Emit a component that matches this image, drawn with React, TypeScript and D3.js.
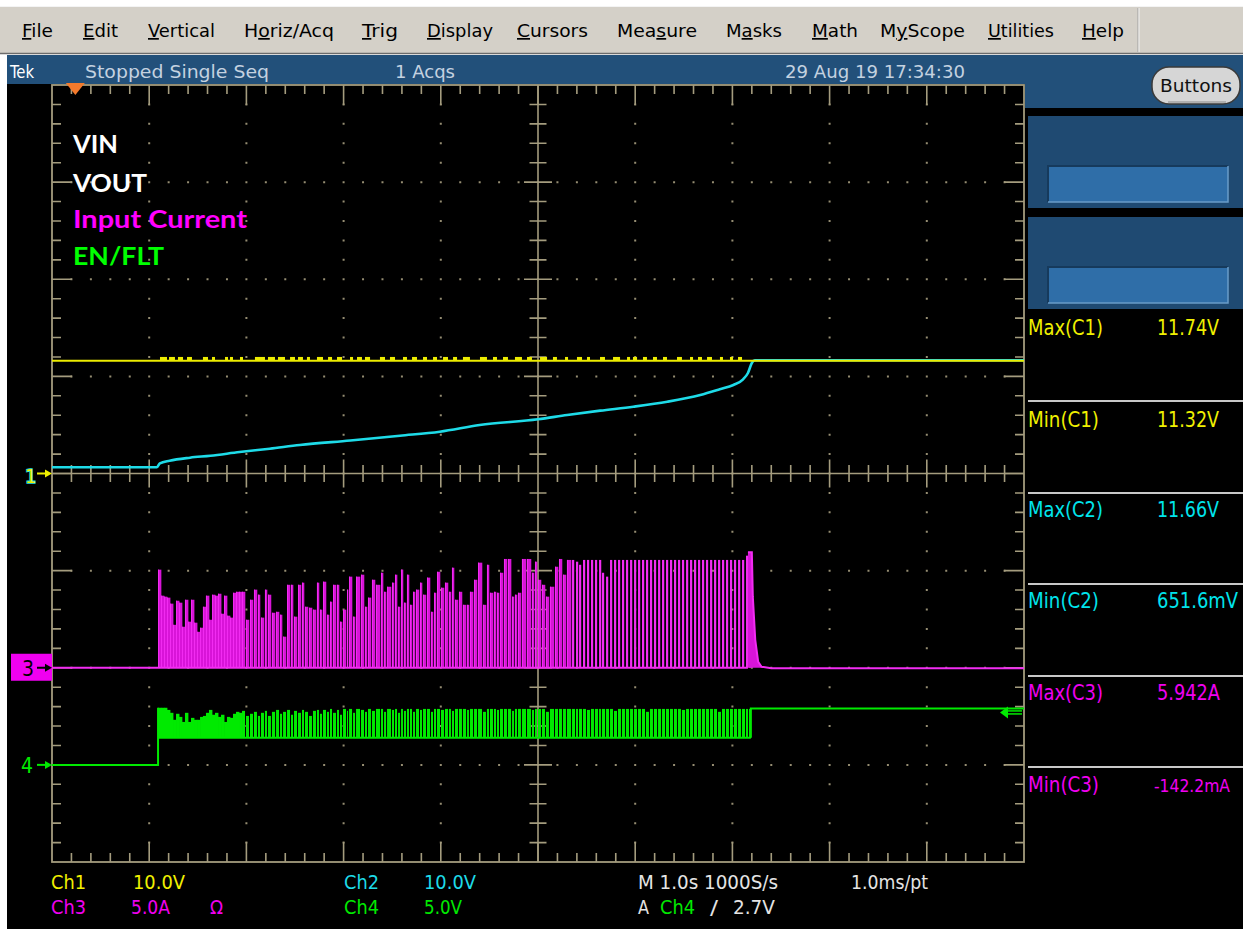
import React from 'react';
import * as d3 from 'd3';

const W = 1243;
const H = 934;

// Graticule frame: 10 horizontal x 8 vertical divisions
const GX0 = 52;
const GX1 = 1024;
const GY0 = 85;
const GY1 = 862;

// Horizontal: 1.0 s/div, record in seconds
const timeDomain = [0, 10];

// Ch1 VIN (10 V/div)
const vinLevel = 11.62;
const vinNoisePeak = 12.0;
const vinNoise: [number, number][] = [
  [1.111, 1.183], [1.204, 1.265], [1.296, 1.348], [1.389, 1.44], [1.553, 1.605], [1.646, 1.677],
  [1.78, 1.811], [1.831, 1.862], [1.934, 1.965], [2.088, 2.191], [2.222, 2.294], [2.325, 2.397],
  [2.449, 2.5], [2.531, 2.582], [2.623, 2.654], [2.726, 2.788], [2.84, 2.881], [2.932, 2.984],
  [3.066, 3.097], [3.138, 3.189], [3.22, 3.272], [3.374, 3.426], [3.477, 3.529], [3.611, 3.652],
  [3.704, 3.755], [3.817, 3.858], [3.92, 3.961], [4.023, 4.074], [4.126, 4.167], [4.228, 4.3],
  [4.403, 4.475], [4.537, 4.578], [4.64, 4.691], [4.763, 4.835], [4.887, 4.938], [5.021, 5.093],
  [5.154, 5.195], [5.278, 5.309], [5.401, 5.453], [5.504, 5.535], [5.638, 5.689], [5.772, 5.844],
  [5.916, 5.947], [5.977, 6.019], [6.08, 6.121], [6.183, 6.224], [6.286, 6.327], [6.43, 6.481],
  [6.564, 6.595], [6.646, 6.687], [6.739, 6.79], [6.872, 6.903], [6.975, 7.006], [7.058, 7.099],
];

// Ch2 VOUT (10 V/div)
const voutT = [0, 1.08, 1.11, 1.21, 1.42, 1.63, 1.93, 2.24, 2.55, 3.07, 3.58, 3.99, 4.4, 5.0, 5.3, 5.64, 5.98, 6.33, 6.67, 6.87, 7.01, 7.11, 7.16, 7.2, 7.23, 10];
const voutV = [0.65, 0.65, 1.05, 1.32, 1.63, 1.83, 2.21, 2.55, 2.93, 3.4, 3.89, 4.3, 4.99, 5.58, 6.02, 6.47, 6.88, 7.39, 8.08, 8.67, 9.11, 9.7, 10.35, 11.38, 11.66, 11.66];

// Switching pulses shared by Ch3 (input current) and Ch4 (EN/FLT)
const pulseT = [
  1.091, 1.121, 1.152, 1.183, 1.214, 1.245, 1.276, 1.307, 1.337, 1.368, 1.399, 1.43, 1.461, 1.492,
  1.523, 1.553, 1.584, 1.615, 1.646, 1.677, 1.708, 1.739, 1.77, 1.8, 1.831, 1.862, 1.893, 1.924,
  1.955, 1.996, 2.037, 2.078, 2.119, 2.15, 2.191, 2.222, 2.263, 2.305, 2.346, 2.377, 2.418, 2.459,
  2.49, 2.531, 2.572, 2.603, 2.644, 2.685, 2.726, 2.757, 2.788, 2.829, 2.86, 2.891, 2.932, 2.963,
  2.994, 3.035, 3.056, 3.097, 3.128, 3.179, 3.22, 3.251, 3.292, 3.333, 3.385, 3.416, 3.447, 3.498,
  3.529, 3.56, 3.591, 3.621, 3.652, 3.683, 3.714, 3.745, 3.786, 3.817, 3.858, 3.899, 3.93, 3.961,
  4.002, 4.043, 4.084, 4.115, 4.146, 4.187, 4.228, 4.27, 4.3, 4.342, 4.383, 4.434, 4.475, 4.506,
  4.547, 4.578, 4.609, 4.65, 4.691, 4.733, 4.763, 4.794, 4.835, 4.887, 4.938, 4.969, 5.0, 5.041,
  5.082, 5.123, 5.175, 5.216, 5.257, 5.298,
  5.35, 5.391, 5.422, 5.463, 5.504, 5.545, 5.586, 5.628, 5.658, 5.7, 5.741, 5.782, 5.823, 5.864,
  5.905, 5.947, 5.988, 6.029, 6.07, 6.111, 6.152, 6.193, 6.235, 6.276, 6.317, 6.358, 6.399, 6.44,
  6.481, 6.523, 6.564, 6.605, 6.646, 6.687, 6.728, 6.77, 6.811, 6.852, 6.893, 6.934, 6.975, 7.016,
  7.058, 7.099, 7.14, 7.171,
];

// Ch3 input current peaks (A), 5 A/div
const currentA = [
  5.05, 3.71, 3.66, 3.61, 3.3, 2.21, 3.45, 3.35, 2.11, 3.5, 2.37, 3.5, 2.32, 1.85,
  2.06, 3.14, 3.71, 2.47, 3.76, 3.71, 3.81, 2.78, 3.71, 2.68, 2.58, 3.86, 3.91, 3.91,
  3.91, 2.47, 3.5, 4.02, 3.76, 2.58, 4.02, 3.76, 2.83, 2.88, 2.73, 1.6, 4.27, 4.27,
  2.63, 4.27, 4.38, 3.14, 3.09, 2.99, 4.38, 2.99, 4.43, 2.73, 3.4, 4.27, 4.27, 2.37,
  2.99, 4.02, 4.69, 2.63, 4.69, 4.79, 3.14, 3.61, 4.53, 4.27, 4.89, 3.91, 4.17, 4.38,
  4.79, 3.14, 5.05, 3.35, 4.79, 3.24, 3.91, 4.02, 4.38, 3.76, 4.64, 2.88, 3.86, 4.94,
  4.12, 4.38, 3.91, 5.15, 3.5, 3.91, 3.24, 3.24, 3.91, 4.53, 5.41, 3.24, 5.3, 3.86,
  3.91, 3.86, 4.89, 5.6, 5.6, 3.66, 3.76, 3.86, 5.6, 5.6, 4.89, 5.46, 4.53, 4.27,
  3.66, 4.17, 5.2, 5.6, 4.79, 5.55,
  5.55, 5.46, 5.3, 5.55, 5.55, 5.55, 5.55, 5.55, 4.89, 4.69, 5.55, 5.55, 5.55, 5.55,
  5.55, 5.55, 5.55, 5.55, 5.55, 5.55, 5.55, 5.55, 5.55, 5.55, 5.55, 5.55, 5.55, 5.55,
  5.55, 5.55, 5.55, 5.55, 5.55, 5.55, 5.55, 5.55, 5.55, 5.55, 5.55, 5.55, 5.55, 5.55,
  5.55, 5.55, 5.77, 5.94,
];
// Current decay once switching stops
const tailT = [7.16, 7.2, 7.21, 7.235, 7.265, 7.3, 7.4, 10];
const tailA = [5.94, 5.94, 3.66, 1.44, 0.31, 0.05, -0.03, -0.03];

// Ch4 EN/FLT pulse tops (V), 5 V/div
const enV = [
  2.94, 2.94, 2.94, 2.83, 2.68, 2.32, 2.63, 2.47, 2.21, 2.68, 2.21, 2.42, 2.32, 2.32,
  2.47, 2.52, 2.68, 2.83, 2.58, 2.68, 2.47, 2.58, 2.21, 2.47, 2.42, 2.63, 2.73, 2.68,
  2.78, 2.52, 2.63, 2.73, 2.52, 2.68, 2.78, 2.52, 2.73, 2.83, 2.63, 2.73, 2.83, 2.58,
  2.78, 2.68, 2.83, 2.73, 2.52, 2.78, 2.83, 2.63, 2.83, 2.73, 2.88, 2.68, 2.83, 2.58,
  2.88, 2.78, 2.88, 2.68, 2.88, 2.83, 2.73, 2.88, 2.78, 2.88, 2.88, 2.73, 2.88, 2.83,
  2.88, 2.68, 2.88, 2.78, 2.88, 2.88, 2.73, 2.88, 2.83, 2.88, 2.88, 2.73, 2.88, 2.88,
  2.83, 2.88, 2.88, 2.78, 2.88, 2.88, 2.88, 2.83, 2.88, 2.88, 2.88, 2.73, 2.88, 2.88,
  2.88, 2.83, 2.88, 2.88, 2.88, 2.78, 2.88, 2.88, 2.88, 2.88, 2.83, 2.88, 2.88, 2.88,
  2.73, 2.88, 2.88, 2.88, 2.88, 2.88,
  2.88, 2.88, 2.88, 2.88, 2.83, 2.88, 2.88, 2.88, 2.88, 2.88, 2.88, 2.78, 2.88, 2.88,
  2.88, 2.88, 2.88, 2.88, 2.88, 2.73, 2.88, 2.88, 2.88, 2.88, 2.88, 2.88, 2.88, 2.88,
  2.83, 2.88, 2.88, 2.88, 2.88, 2.88, 2.88, 2.88, 2.88, 2.73, 2.88, 2.88, 2.88, 2.88,
  2.88, 2.88, 2.88, 2.88,
];
const enLow = 1.39;
const enEdgeInT = [0, 1.091, 1.091];
const enEdgeInV = [0, 0, 2.94];
const enEdgeOutT = [7.19, 7.19, 10];
const enEdgeOutV = [1.39, 2.9, 2.9];

// Trigger
const triggerPos = 0.24; // s
const triggerLevel = 2.7; // V on Ch4

// Measurements panel
const measLabels = ['Max(C1)', 'Min(C1)', 'Max(C2)', 'Min(C2)', 'Max(C3)', 'Min(C3)'];
const measValues = ['11.74V', '11.32V', '11.66V', '651.6mV', '5.942A', '-142.2mA'];

// Menu bar
const menuLabels = ['File', 'Edit', 'Vertical', 'Horiz/Acq', 'Trig', 'Display', 'Cursors', 'Measure', 'Masks', 'Math', 'MyScope', 'Utilities', 'Help'];
const menuHot = [0, 0, 0, 1, 0, 0, 0, 3, 1, 0, 1, 0, 0];

// Trace legend
const legendLabels = ['VIN', 'VOUT', 'Input Current', 'EN/FLT'];

// ---- layout ----
const menuX = [22, 83, 148, 244, 362, 427, 517, 617, 726, 812, 880, 988, 1082];
const menuW = [31, 35, 67, 90, 36, 66, 71, 80, 56, 46, 85, 66, 42];
const measLabelW = [75, 71, 75, 71, 75, 71];
const measValueX = [1157, 1157, 1157, 1157, 1157, 1154];
const measValueW = [62, 62, 62, 81, 63, 76];
const measValueSize = [21, 21, 21, 21, 21, 18];
const measBase = [335, 427, 517, 608, 700, 792];
const measSep = [401, 493, 584, 676, 767];
const measColor = ['#f0f000', '#f0f000', '#00e4ec', '#00e4ec', '#f000f0', '#f000f0'];
const legendBase = [153, 192, 228, 265];
const legendW = [45, 74, 174, 91];
const legendColor = ['#ffffff', '#ffffff', '#ff00ff', '#00ff00'];

const TEK = "'Liberation Sans Narrow','DejaVu Sans Condensed','Liberation Sans',sans-serif";
const UI = "'DejaVu Sans','Liberation Sans',sans-serif";
const GRAT = '#a49c7e';
const DOT = '#958d72';
const BLUE = '#22507a';
const PANEL = '#1f4a72';

const YELLOW = '#ecec00';
const CYAN = '#1edbe8';
const MAGENTA = '#d814d8';
const MAGENTA_LINE = '#f22cf2';
const GREEN = '#00ea00';

function TT(props: { x: number; y: number; w: number; fill: string; size?: number; children: React.ReactNode; family?: string; weight?: string }) {
  const { x, y, w, fill, size = 19, children, family = TEK, weight = 'normal' } = props;
  return (
    <text x={x} y={y} fill={fill} fontFamily={family} fontSize={size} fontWeight={weight}
      textLength={w} lengthAdjust="spacingAndGlyphs">{children}</text>
  );
}

export default function App() {
  const xs = d3.scaleLinear().domain(timeDomain).range([GX0, GX1]);
  const yDiv = d3.scaleLinear().domain([-4, 4]).range([GY1, GY0]);
  const y12 = d3.scaleLinear().domain([-40, 40]).range([GY1, GY0]);
  const y3 = d3.scaleLinear().domain([-10, 30]).range([GY1, GY0]);
  const y4 = d3.scaleLinear().domain([-5, 35]).range([GY1, GY0]);

  const xMid = xs(5);
  const yMid = yDiv(0);

  // graticule ticks and dots
  const minorT = d3.range(1, 50).map((i) => i / 5);
  const minorD = d3.range(-19, 20).map((i) => i / 5);
  let ticks = '';
  minorT.forEach((t) => {
    const x = xs(t);
    const major = Number.isInteger(t);
    const len = major ? 20 : 9;
    ticks += `M${x},${GY0}v${len}M${x},${GY1}v${-len}`;
    if (t !== 5) {
      const a = major ? 14 : 8.5;
      ticks += `M${x},${yMid - a}v${2 * a}`;
    }
  });
  minorD.forEach((v) => {
    const y = yDiv(v);
    const major = Number.isInteger(v);
    const len = major ? 20 : 9;
    ticks += `M${GX0},${y}h${len}M${GX1},${y}h${-len}`;
    if (v !== 0) {
      const a = major ? 14 : 8.5;
      ticks += `M${xMid - a},${y}h${2 * a}`;
    }
  });
  let dots = '';
  d3.range(1, 10).filter((k) => k !== 5).forEach((k) => {
    minorD.forEach((v) => {
      dots += `M${xs(k) - 1},${yDiv(v) - 1}h2v2h-2z`;
    });
  });
  d3.range(-3, 4).filter((j) => j !== 0).forEach((j) => {
    minorT.forEach((t) => {
      dots += `M${xs(t) - 1},${yDiv(j) - 1}h2v2h-2z`;
    });
  });

  // traces
  const lineTV = (sy: d3.ScaleLinear<number, number>) =>
    d3.line<[number, number]>().x((d) => xs(d[0])).y((d) => sy(d[1]));
  const voutPath = d3.line<number>().x((_, i) => xs(voutT[i])).y((v) => y12(v)).curve(d3.curveMonotoneX)(voutV) || '';
  const vinPath = lineTV(y12)([[timeDomain[0], vinLevel], [timeDomain[1], vinLevel]]) || '';
  const tailPts = tailT.map((t, i) => [t, tailA[i]] as [number, number]);
  const tailLine = lineTV(y3)(tailPts) || '';
  const tailArea = d3.area<[number, number]>().x((d) => xs(d[0])).y0(y3(0)).y1((d) => y3(d[1]))(tailPts.slice(0, 6)) || '';
  const enIn = lineTV(y4)(enEdgeInT.map((t, i) => [t, enEdgeInV[i]] as [number, number])) || '';
  const enOut = lineTV(y4)(enEdgeOutT.map((t, i) => [t, enEdgeOutV[i]] as [number, number])) || '';

  const n = pulseT.length;
  const spanEnd = (i: number) => (i < n - 1 ? xs(pulseT[i + 1]) : xs(pulseT[i]) + 3);

  const magBars = pulseT.map((t, i) => {
    const x0 = xs(t);
    const x1 = spanEnd(i);
    let w: number;
    let fill = MAGENTA;
    if (t < 1.94) w = x1 - x0 + 0.4;
    else if (t < 5.33) w = x1 - x0 - 0.7;
    else { w = 2.2; fill = MAGENTA_LINE; }
    const top = y3(currentA[i]);
    return <rect key={i} x={x0} y={top} width={Math.max(w, 1)} height={y3(0) - top} fill={fill} />;
  });
  const magEdges = pulseT.map((t, i) => {
    if (t >= 5.33) return null;
    const x0 = xs(t);
    const top = y3(currentA[i]);
    return <line key={i} x1={x0 + 0.5} x2={x0 + 0.5} y1={top} y2={y3(0)} stroke={MAGENTA_LINE} strokeWidth={1} />;
  });
  const grnBars = pulseT.map((t, i) => {
    const x0 = xs(t);
    const x1 = spanEnd(i);
    const w = t < 1.94 ? x1 - x0 + 0.4 : x1 - x0 - 1.0;
    const top = y4(enV[i]);
    return <rect key={i} x={x0} y={top} width={Math.max(w, 1)} height={y4(enLow) - top} fill={GREEN} />;
  });

  const tx = xs(triggerPos);
  const trigY = y4(triggerLevel);

  return (
    <svg width={W} height={H} viewBox={`0 0 ${W} ${H}`}
      style={{ position: 'absolute', left: 0, top: 0, display: 'block' }}>
      <defs>
        <clipPath id="screen">
          <rect x={GX0} y={GY0} width={GX1 - GX0} height={GY1 - GY0} />
        </clipPath>
      </defs>
      <rect width={W} height={H} fill="#ffffff" />

      {/* menu bar */}
      <rect x={0} y={6} width={W} height={48} fill="#d4d0c8" />
      <line x1={0} x2={W} y1={6.5} y2={6.5} stroke="#f4f4f4" />
      <line x1={0} x2={W} y1={53.5} y2={53.5} stroke="#6c6c6c" strokeWidth={1.5} />
      <line x1={1138} x2={1138} y1={8} y2={52} stroke="#a0a0a0" />
      <line x1={1139} x2={1139} y1={8} y2={52} stroke="#f4f4f4" />
      {menuLabels.map((m, i) => {
        const h = menuHot[i];
        return (
          <text key={m} x={menuX[i]} y={37} fontFamily={UI} fontSize={17} fill="#000"
            textLength={menuW[i]} lengthAdjust="spacingAndGlyphs">
            {m.slice(0, h)}
            <tspan textDecoration="underline">{m[h]}</tspan>
            {m.slice(h + 1)}
          </text>
        );
      })}

      {/* status bar and screen */}
      <rect x={7} y={55} width={W - 7} height={30} fill={BLUE} />
      <rect x={1025} y={55} width={W - 1025} height={53} fill={BLUE} />
      <rect x={7} y={84} width={1018} height={845} fill="#000" />
      <rect x={1025} y={108} width={W - 1025} height={821} fill="#000" />
      <TT x={10} y={78} w={24} fill="#ffffff" size={18}>Tek</TT>
      <TT x={85} y={78} w={184} fill="#c4d2e0" size={18}>Stopped  Single Seq</TT>
      <TT x={395} y={78} w={60} fill="#c4d2e0" size={18}>1 Acqs</TT>
      <TT x={785} y={78} w={180} fill="#c4d2e0" size={18}>29 Aug 19 17:34:30</TT>

      {/* Buttons */}
      <rect x={1152} y={67} width={88} height={37} rx={17} fill="#d6d6d6" stroke="#3a3a3a" strokeWidth={1.5} />
      <line x1={1168} x2={1226} y1={102} y2={102} stroke="#8a8a8a" />
      <text x={1196} y={92} textAnchor="middle" fontFamily={UI} fontSize={17} fill="#111"
        textLength={72} lengthAdjust="spacingAndGlyphs">Buttons</text>

      {/* side panels */}
      {[116, 217].map((py) => (
        <g key={py}>
          <rect x={1028} y={py} width={W - 1028} height={92} fill={PANEL} />
          <rect x={1048} y={py + 50} width={180} height={36} fill="#2f6ea8" />
          <path d={`M1048,${py + 86}V${py + 50}H1228`} fill="none" stroke="#163a5c" strokeWidth={2} />
          <path d={`M1048,${py + 86}H1228V${py + 50}`} fill="none" stroke="#6a9cc8" strokeWidth={1.5} />
        </g>
      ))}

      {/* measurements */}
      {measSep.map((y) => (
        <line key={y} x1={1028} x2={W} y1={y} y2={y} stroke="#c8c8c8" strokeWidth={2} />
      ))}
      {measLabels.map((m, i) => (
        <g key={m}>
          <TT x={1028} y={measBase[i]} w={measLabelW[i]} fill={measColor[i]} size={21}>{m}</TT>
          <TT x={measValueX[i]} y={measBase[i]} w={measValueW[i]} fill={measColor[i]}
            size={measValueSize[i]}>{measValues[i]}</TT>
        </g>
      ))}

      {/* graticule */}
      <path d={dots} fill={DOT} />
      <path d={ticks} fill="none" stroke={GRAT} strokeWidth={1.6} />
      <line x1={xMid} x2={xMid} y1={GY0} y2={GY1} stroke={GRAT} strokeWidth={1.6} />
      <line x1={GX0} x2={GX1} y1={yMid} y2={yMid} stroke={GRAT} strokeWidth={1.6} />
      <rect x={GX0} y={GY0} width={GX1 - GX0} height={GY1 - GY0} fill="none" stroke={GRAT} strokeWidth={1.8} />

      {/* traces */}
      <g clipPath="url(#screen)">
        {/* Ch4 EN/FLT */}
        <g>{grnBars}</g>
        <line x1={xs(pulseT[0])} x2={xs(enEdgeOutT[0])} y1={y4(enLow)} y2={y4(enLow)} stroke={GREEN} strokeWidth={2} />
        <path d={enIn} fill="none" stroke={GREEN} strokeWidth={2} />
        <path d={enOut} fill="none" stroke={GREEN} strokeWidth={2} />

        {/* Ch3 input current */}
        <g>{magBars}</g>
        <g>{magEdges}</g>
        <path d={tailArea} fill={MAGENTA} />
        <line x1={xs(0)} x2={xs(tailT[0])} y1={y3(0)} y2={y3(0)} stroke={MAGENTA_LINE} strokeWidth={2} />
        <path d={tailLine} fill="none" stroke={MAGENTA_LINE} strokeWidth={2} />

        {/* Ch2 VOUT */}
        <path d={voutPath} fill="none" stroke={CYAN} strokeWidth={2.6} />

        {/* Ch1 VIN */}
        <path d={vinPath} fill="none" stroke={YELLOW} strokeWidth={2} />
        {vinNoise.map(([a, b], i) => (
          <rect key={i} x={xs(a)} width={Math.max(xs(b) - xs(a), 1)} y={y12(vinNoisePeak)}
            height={y12(vinLevel) - y12(vinNoisePeak)} fill={YELLOW} />
        ))}
      </g>

      {/* trigger position */}
      <path d={`M${tx - 9.5},83L${tx + 9.5},83L${tx},95Z`} fill="#f47a2c" />

      {/* trigger level arrow */}
      <g stroke={GREEN} strokeWidth={1.5} fill="none">
        <line x1={1004} x2={1022} y1={trigY - 1.5} y2={trigY - 1.5} />
        <line x1={1004} x2={1022} y1={trigY + 1.5} y2={trigY + 1.5} />
      </g>
      <path d={`M1000,${trigY}l8,-6v12z`} fill={GREEN} />

      {/* channel markers: Ch1 label outlined in the Ch2 colour where both share the offset */}
      <text x={25} y={483} fontFamily={TEK} fontSize={20} fill="#f0f000" stroke={CYAN}
        strokeWidth={1.6} paintOrder="stroke">1</text>
      <line x1={37} x2={47} y1={y12(0)} y2={y12(0)} stroke="#f0f000" strokeWidth={2} />
      <path d={`M45,${y12(0) - 4}L52,${y12(0)}L45,${y12(0) + 4}Z`} fill="#f0f000" />

      <rect x={11} y={y3(0) - 14} width={41} height={27} fill="#f000f0" />
      <text x={22} y={y3(0) + 8} fontFamily={TEK} fontSize={21} fill="#000">3</text>
      <line x1={37} x2={47} y1={y3(0)} y2={y3(0)} stroke="#000" strokeWidth={2} />
      <path d={`M45,${y3(0) - 4}L52,${y3(0)}L45,${y3(0) + 4}Z`} fill="#000" />

      <text x={21} y={y4(0) + 8} fontFamily={TEK} fontSize={21} fill={GREEN}>4</text>
      <line x1={37} x2={47} y1={y4(0)} y2={y4(0)} stroke={GREEN} strokeWidth={2} />
      <path d={`M45,${y4(0) - 4}L52,${y4(0)}L45,${y4(0) + 4}Z`} fill={GREEN} />

      {/* legend */}
      {legendLabels.map((l, i) => (
        <TT key={l} x={73} y={legendBase[i]} w={legendW[i]} fill={legendColor[i]} size={25}
          family="Lato, 'Open Sans', sans-serif" weight="bold">{l}</TT>
      ))}

      {/* scale readouts */}
      <TT x={51} y={889} w={35} fill="#f0f000">Ch1</TT>
      <TT x={133} y={889} w={52} fill="#f0f000">10.0V</TT>
      <TT x={344} y={889} w={35} fill={CYAN}>Ch2</TT>
      <TT x={424} y={889} w={52} fill={CYAN}>10.0V</TT>
      <TT x={638} y={889} w={140} fill="#e4e4e4">M 1.0s 1000S/s</TT>
      <TT x={851} y={889} w={77} fill="#e4e4e4">1.0ms/pt</TT>
      <TT x={51} y={914} w={35} fill="#f000f0">Ch3</TT>
      <TT x={131} y={914} w={39} fill="#f000f0">5.0A</TT>
      <TT x={210} y={914} w={13} fill="#f000f0">Ω</TT>
      <TT x={344} y={914} w={35} fill={GREEN}>Ch4</TT>
      <TT x={424} y={914} w={38} fill={GREEN}>5.0V</TT>
      <TT x={638} y={914} w={11} fill="#e4e4e4">A</TT>
      <TT x={660} y={914} w={35} fill={GREEN}>Ch4</TT>
      <TT x={710} y={914} w={8} fill="#e4e4e4">/</TT>
      <TT x={733} y={914} w={42} fill="#e4e4e4">2.7V</TT>
    </svg>
  );
}
